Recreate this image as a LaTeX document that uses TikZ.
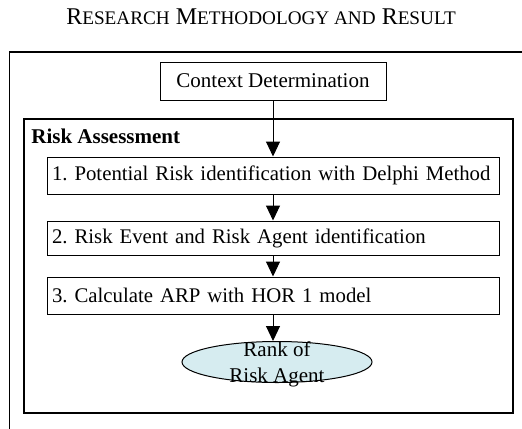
\documentclass[tikz,border=0pt]{standalone}
\usepackage{fontspec}
\setmainfont{Liberation Serif}
\usetikzlibrary{arrows.meta,shapes.geometric}

\tikzset{
  stepbox/.style={draw, line width=0.5pt, minimum width=226pt, minimum height=18.5pt,
    text width=221pt, inner xsep=2.5pt, inner ysep=0pt, align=left,
    font=\fontsize{10.4}{12.6}\selectfont},
  arr/.style={-{Triangle[length=7.5pt,width=7pt]}, line width=0.5pt}
}

\begin{document}
\frenchspacing
\begin{tikzpicture}[x=0.5pt, y=-0.5pt]
    \useasboundingbox (0,0) rectangle (522,428);

    % Title
    \node (title) at (261,17) {\fontsize{12}{14}\selectfont R{\fontsize{9.6}{12}\selectfont ESEARCH} M{\fontsize{9.6}{12}\selectfont ETHODOLOGY AND} R{\fontsize{9.6}{12}\selectfont ESULT}};

    % Outer frame
    \draw[line width=0.6pt] (9.5,440) -- (9.5,52) -- (540,52);

    % Context
    \node[draw, line width=0.5pt, minimum width=113pt, minimum height=19pt, inner sep=0pt,
      font=\fontsize{10.5}{12.6}\selectfont] (ctx) at (273,81) {Context Determination};

    % Risk assessment frame
    \node[draw, line width=0.6pt, minimum width=244.5pt, minimum height=147pt, inner sep=0pt] (ra) at (268.5,266) {};
    \node[anchor=west, inner sep=0pt, font=\fontsize{10.5}{12.6}\selectfont\bfseries] (ralabel) at (31,136) {Risk Assessment};

    % Steps
    \node[stepbox] (s1) at (273,175.5) {1. Potential Risk identification with Delphi Method};
    \node[stepbox, minimum height=17pt] (s2) at (273,238) {2. Risk Event and Risk Agent identification};
    \node[stepbox] (s3) at (273,295.5) {3. Calculate ARP with HOR 1 model};

    % Result
    \node[ellipse, draw, line width=0.5pt, fill={rgb,255:red,214;green,236;blue,240},
      minimum width=95pt, minimum height=20.5pt, inner sep=0pt] (agent) at (277,362) {};
    \node[align=center, inner sep=0pt, font=\fontsize{10.5}{13}\selectfont] (agenttxt) at (277,364) {Rank of\\Risk Agent};

    % Arrows
    \draw[arr] (ctx.south) -- (s1.north);
    \draw[arr] (s1.south) -- (s2.north);
    \draw[arr] (s2.south) -- (s3.north);
    \draw[arr] (s3.south) -- (s3.south |- agent.north);
\end{tikzpicture}
\end{document}
